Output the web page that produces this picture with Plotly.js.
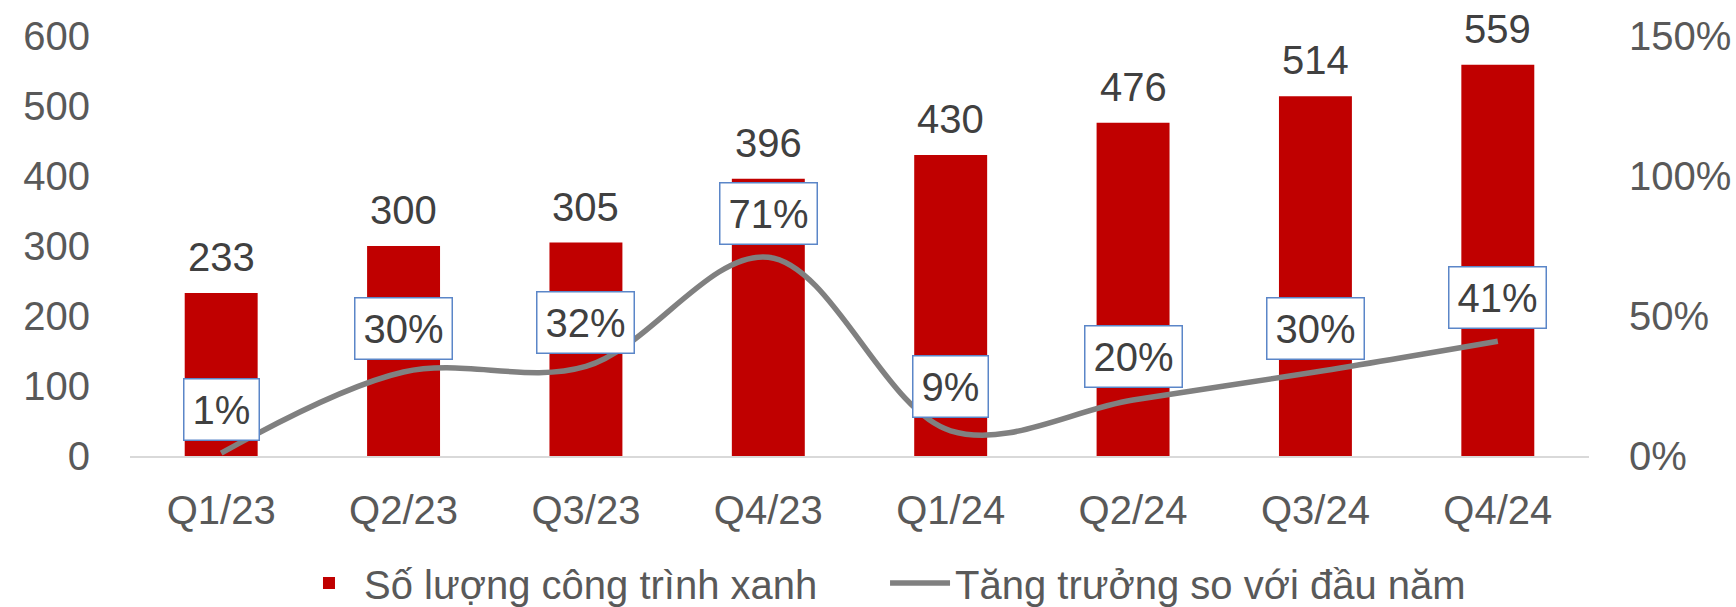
<!DOCTYPE html>
<html><head><meta charset="utf-8">
<script src="https://cdn.plot.ly/plotly-3.0.1.min.js"></script>
<style>html,body{margin:0;padding:0;background:#fff}#chart{width:1736px;height:607px}</style>
</head><body><div id="chart"></div>
<script>
const categories = ["Q1/23","Q2/23","Q3/23","Q4/23","Q1/24","Q2/24","Q3/24","Q4/24"];
const buildings = [233,300,305,396,430,476,514,559];
const growth = [0.01,0.30,0.32,0.71,0.09,0.20,0.30,0.41];
const growthLabels = ["1%","30%","32%","71%","9%","20%","30%","41%"];
const leftTicks = [0,100,200,300,400,500,600];
const rightTicks = [0,0.5,1.0,1.5];
const rightTickText = ["0%","50%","100%","150%"];

const FONT = "Liberation Sans, Arial, sans-serif";
const FS = 40;

const bars = {
  type:'bar', x:categories, y:buildings, name:'Số lượng công trình xanh',
  marker:{color:'#C00000'}, width:0.4, hoverinfo:'none', legend:'legend'
};
const line = {
  type:'scatter', mode:'lines', x:categories, y:growth, yaxis:'y2',
  name:'Tăng trưởng so với đầu năm', legend:'legend2',
  line:{color:'#808080', width:5.5, shape:'spline', smoothing:1}, hoverinfo:'none'
};

const annotations = [];
categories.forEach((c,i)=>{
  annotations.push({x:c, y:buildings[i], xref:'x', yref:'y', text:String(buildings[i]),
    showarrow:false, yanchor:'middle', yshift:36, font:{family:FONT, size:FS, color:'#404040'}});
  annotations.push({x:c, y:growth[i], xref:'x', yref:'y2', text:growthLabels[i],
    showarrow:false, yanchor:'middle', yshift:44, bgcolor:'#ffffff', bordercolor:'#5B86C8',
    borderwidth:1.5, borderpad:8, font:{family:FONT, size:FS, color:'#404040'}});
});

const legendBase = {orientation:'h', xanchor:'left', y:-0.38, yanchor:'bottom',
  font:{family:FONT, size:FS, color:'#595959'}, itemwidth:60, bgcolor:'rgba(0,0,0,0)'};

const layout = {
  width:1736, height:607,
  margin:{l:130, r:147, t:36, b:151, autoexpand:false},
  paper_bgcolor:'#fff', plot_bgcolor:'#fff',
  font:{family:FONT, size:FS, color:'#595959'},
  bargap:0.6,
  xaxis:{type:'category', showgrid:false, showline:true, linecolor:'#D9D9D9', linewidth:2,
    ticks:'outside', ticklen:18, tickcolor:'rgba(0,0,0,0)', zeroline:false, automargin:false,
    tickfont:{family:FONT, size:FS, color:'#595959'}},
  yaxis:{range:[0,600], tickvals:leftTicks, showgrid:false, zeroline:false, showline:false,
    ticks:'outside', ticklen:31, tickcolor:'rgba(0,0,0,0)', automargin:false,
    tickfont:{family:FONT, size:FS, color:'#595959'}},
  yaxis2:{range:[0,1.5], overlaying:'y', side:'right', tickvals:rightTicks, ticktext:rightTickText,
    showgrid:false, zeroline:false, showline:false, automargin:false,
    ticks:'outside', ticklen:31, tickcolor:'rgba(0,0,0,0)',
    tickfont:{family:FONT, size:FS, color:'#595959'}},
  showlegend:true,
  legend:Object.assign({}, legendBase, {x:0.1124}),
  legend2:Object.assign({}, legendBase, {x:0.5175}),
  annotations:annotations
};
Plotly.newPlot('chart',[bars,line],layout,{staticPlot:true});
</script></body></html>
